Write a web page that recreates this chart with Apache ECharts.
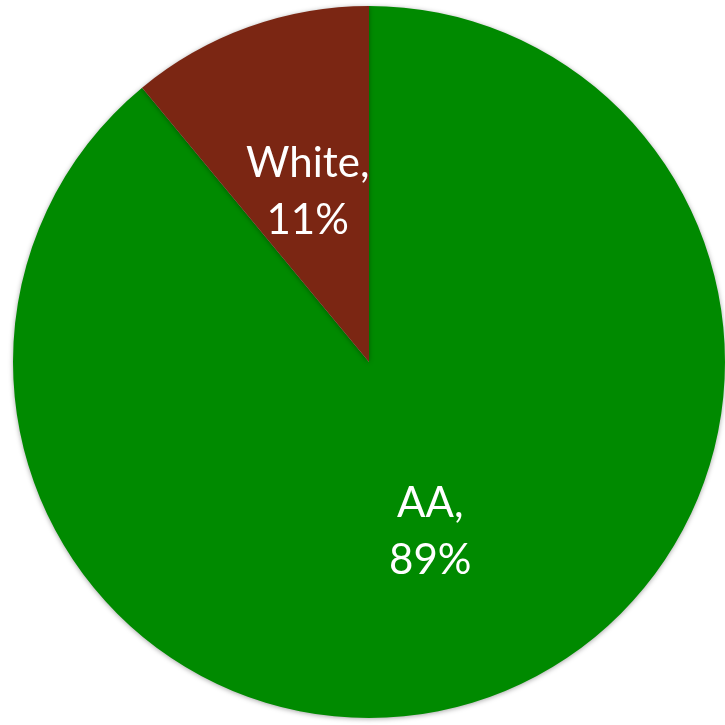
<!DOCTYPE html>
<html>
<head>
<meta charset="utf-8">
<script src="https://cdn.jsdelivr.net/npm/echarts@6/dist/echarts.min.js"></script>
<style>
  html, body { margin: 0; padding: 0; background: #fff; }
  #chart { width: 725px; height: 725px; }
</style>
</head>
<body>
<div id="chart"></div>
<script>
  // slice names and percentages, clockwise from 12 o'clock
  var categories = ['AA', 'White']
  var percents = [89, 11]
  var colors = ['#008a00', '#7b2613']

  var chart = echarts.init(document.getElementById('chart'))
  chart.setOption({
    animation: false,
    color: colors,
    series: [{
      type: 'pie',
      center: [369, 362],
      radius: 356,
      startAngle: 90,
      clockwise: true,
      data: categories.map(function (c, i) { return { name: c, value: percents[i] } }),
      itemStyle: {
        shadowBlur: 5,
        shadowColor: 'rgba(0,0,0,0.35)',
        shadowOffsetY: 1
      },
      label: {
        position: 'inside',
        formatter: '{b},\n{c}%',
        color: '#fff',
        fontFamily: 'Lato',
        fontSize: 42,
        lineHeight: 57,
        padding: [16, 0, 0, 0],
        align: 'center'
      },
      labelLine: { show: false }
    }]
  })
</script>
</body>
</html>
